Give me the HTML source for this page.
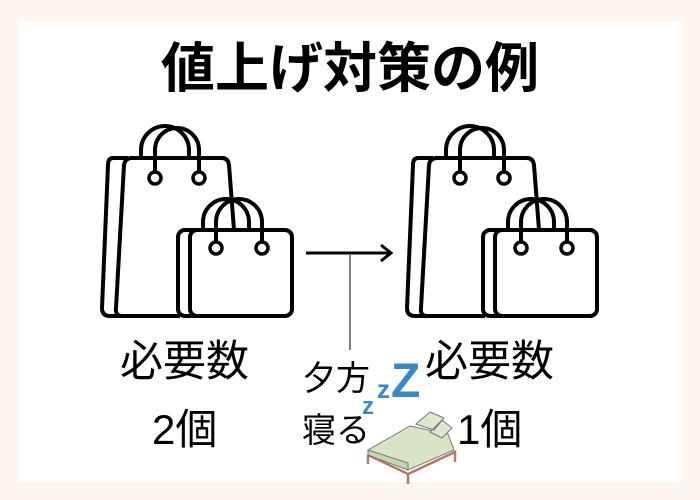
<!DOCTYPE html>
<html><head><meta charset="utf-8"><style>
body{margin:0;width:700px;height:500px;background:#fdf6f0;position:relative;overflow:hidden;font-family:"Liberation Sans","Noto Sans CJK JP",sans-serif}
.p{position:absolute;left:18px;top:21px;width:664px;height:461px;background:#fff}
.t{position:absolute;white-space:nowrap;color:#000;line-height:1}
</style></head><body>
<div class="p"></div>
<div class="t" style="left:0;width:700px;text-align:center;top:42px;font-size:54px;font-weight:bold">値上げ対策の例</div>
<svg style="position:absolute;left:0;top:0" width="700" height="500">
<defs>
<g id="bags" fill="none" stroke="#000" stroke-width="4" stroke-linejoin="round">
<path d="M128 158 L113 158 Q108 158 108 165 L102 308 Q102 316 110 316 L180 316"/>
<path d="M130 158 L222 158 Q228 158 229 165 L234 230 M180 316 L122 316 Q115 316 116 308 L124 165 Q125 158 132 158" fill="#fff"/>
<path d="M141 158 L141 150 A24 24 0 0 1 189 150 L189 158"/>
<path d="M155 172 L155 150 A22 22 0 0 1 199 150 L199 172"/>
<circle cx="155" cy="178" r="6" stroke-width="3.5"/><circle cx="199" cy="178" r="6" stroke-width="3.5"/>
<rect x="178" y="230" width="102" height="86" rx="7" fill="#fff"/>
<rect x="190" y="230" width="102" height="86" rx="7" fill="#fff"/>
<path d="M203 230 L203 222 A23 23 0 0 1 249 222 L249 230"/>
<path d="M216 242 L216 222 A23 23 0 0 1 262 222 L262 242"/>
<circle cx="216" cy="248" r="6" stroke-width="3.5"/><circle cx="262" cy="248" r="6" stroke-width="3.5"/>
</g>
</defs>
<use href="#bags"/>
<use href="#bags" x="305"/>
<line x1="306" y1="253" x2="390" y2="253" stroke="#000" stroke-width="3"/>
<path d="M381 245 L391 253 L381 261" fill="none" stroke="#000" stroke-width="3"/>
<line x1="350" y1="255" x2="350" y2="350" stroke="#000" stroke-width="1"/>
<g fill="#3d86c6" font-family="Liberation Sans" font-weight="bold">
<text x="391" y="397" font-size="48">Z</text>
<text x="377" y="398" font-size="26">z</text>
<text x="362" y="414" font-size="24">z</text>
</g>
<g stroke="#b27a62" stroke-width="2.5" fill="none">
<path d="M368 455 L408 474 L455 452 L455 462 M408 474 L408 484 M368 455 L368 464"/>
</g>
<path d="M368 450 L410 426 L448 434 L454 450 L408 470 Z" fill="#d9e4c6" stroke="#777" stroke-width="1"/>
<path d="M368 450 L408 463 L408 470 L368 455Z" fill="#c7d4b0" stroke="#777" stroke-width="1"/>
<path d="M416 424 L430 412 L444 418 L434 430 Z M430 432 L442 420 L452 428 L442 438Z" fill="#dfe7cf" stroke="#777" stroke-width="1"/>
</svg>
<div class="t" style="left:120px;top:341px;font-size:43px">必要数</div>
<div class="t" style="left:152px;top:409px;font-size:42px">2個</div>
<div class="t" style="left:425px;top:341px;font-size:43px">必要数</div>
<div class="t" style="left:457px;top:409px;font-size:42px">1個</div>
<div class="t" style="left:302px;top:362px;font-size:34px">夕方</div>
<div class="t" style="left:302px;top:414px;font-size:34px">寝る</div>
</body></html>
